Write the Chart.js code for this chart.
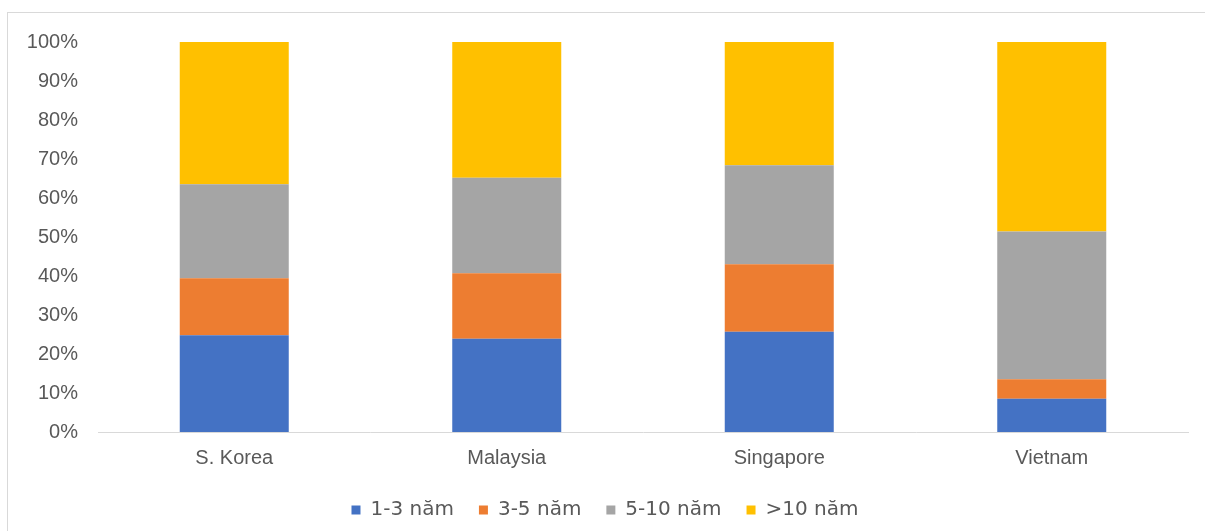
<!DOCTYPE html>
<html><head><meta charset="utf-8">
<script src="https://cdn.jsdelivr.net/npm/chart.js@4"></script>
<style>
html,body{margin:0;padding:0;background:#fff;}
#wrap{position:relative;width:1205px;height:531px;}
#frame{position:absolute;left:7px;top:12px;right:0;bottom:0;border-left:1px solid #d9d9d9;border-top:1px solid #d9d9d9;}
canvas{position:absolute;left:0;top:0;}
</style></head>
<body><div id="wrap"><div id="frame"></div><canvas id="c" width="1205" height="531"></canvas></div>
<script>
const categories = ["S. Korea", "Malaysia", "Singapore", "Vietnam"];
const seriesNames = ["1-3 năm", "3-5 năm", "5-10 năm", ">10 năm"];
const y1to3 = [24.8, 23.9, 25.7, 8.5];
const y3to5 = [14.6, 16.8, 17.3, 5.0];
const y5to10 = [24.1, 24.5, 25.4, 37.9];
const yOver10 = [36.5, 34.8, 31.6, 48.6];
const yTicks = [0, 10, 20, 30, 40, 50, 60, 70, 80, 90, 100];
const colors = ["#4472C4", "#ED7D31", "#A5A5A5", "#FFC000"];

const seriesData = [y1to3, y3to5, y5to10, yOver10];
new Chart(document.getElementById('c'), {
  type: 'bar',
  data: {
    labels: categories,
    datasets: seriesData.map((d, i) => ({
      label: seriesNames[i], data: d, backgroundColor: colors[i],
      borderWidth: 0, categoryPercentage: 1, barPercentage: 0.4
    }))
  },
  options: {
    responsive: false, animation: false,
    layout: { padding: { left: 22, right: 17, top: 42, bottom: 1 } },
    plugins: {
      legend: {
        position: 'bottom', maxHeight: 55,
        labels: { boxWidth: 9, boxHeight: 9, padding: 25, color: '#595959',
          font: { family: 'DejaVu Sans', size: 20 } }
      },
      tooltip: { enabled: false }
    },
    scales: {
      x: {
        stacked: true,
        grid: { display: false, drawTicks: false },
        border: { display: true, color: '#d9d9d9', width: 1 },
        ticks: { color: '#595959', font: { family: 'Liberation Sans', size: 20 }, padding: 14 },
        afterFit: s => { s.height = 43; }
      },
      y: {
        stacked: true, min: 0, max: 100,
        afterBuildTicks: s => { s.ticks = yTicks.map(v => ({ value: v })); },
        grid: { display: false, drawTicks: false },
        border: { display: false },
        ticks: { color: '#595959', font: { family: 'Liberation Sans', size: 20 }, padding: 20,
          callback: v => v + '%' },
        afterFit: s => { s.width = 76; }
      }
    }
  }
});
</script></body></html>
